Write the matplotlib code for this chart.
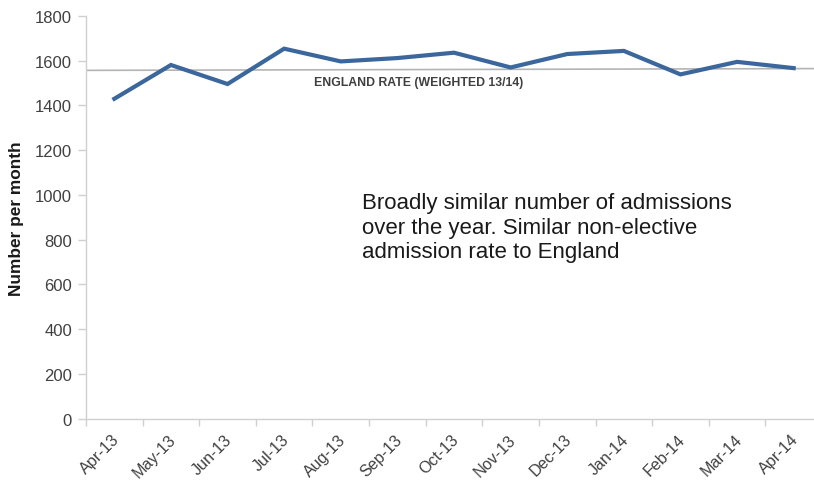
import matplotlib
matplotlib.use("Agg")
import matplotlib.pyplot as plt
import matplotlib.transforms as mtransforms
from matplotlib.ticker import FixedLocator

months = ["Apr-13", "May-13", "Jun-13", "Jul-13", "Aug-13", "Sep-13", "Oct-13",
          "Nov-13", "Dec-13", "Jan-14", "Feb-14", "Mar-14", "Apr-14"]
admissions = [1430, 1581, 1496, 1654, 1597, 1612, 1636, 1570, 1630, 1644, 1539, 1595, 1567]
england_rate = [1557, 1565]  # at left and right ends of the axis
england_label = "ENGLAND RATE (WEIGHTED 13/14)"
note = "Broadly similar number of admissions\nover the year. Similar non-elective\nadmission rate to England"
yticks = list(range(0, 1801, 200))

plt.rcParams['font.family'] = ['Liberation Sans', 'DejaVu Sans']

fig = plt.figure(figsize=(8.14, 4.81), dpi=100)
ax = fig.add_axes([86/814, 61.3/481, (822-86)/814, (419.7-17)/481])

x = list(range(len(months)))
ax.plot(x, admissions, color='#3b679c', lw=3.0, solid_joinstyle='miter', zorder=3)
ax.plot([-0.5, len(months) - 0.5], england_rate, color='#b4b4b4', lw=1.2, zorder=2)

ax.set_xlim(-0.5, len(months) - 0.5)
ax.set_ylim(0, 1800)
ax.set_yticks(yticks)
ax.set_xticks(x)
ax.set_xticklabels(months, rotation=45, ha='right', va='top', rotation_mode='anchor')
ax.xaxis.set_minor_locator(FixedLocator([i - 0.5 for i in range(len(months) + 1)]))
ax.tick_params(axis='x', which='major', length=0, pad=9, labelsize=11.6, labelcolor='#404040')
ax.tick_params(axis='x', which='minor', length=5, color='#d0d0d0', width=1)
ax.tick_params(axis='y', length=6, color='#d0d0d0', width=1, labelsize=12,
               labelcolor='#404040', pad=4)
shift = mtransforms.ScaledTranslation(-3/100, 0, fig.dpi_scale_trans)
for lbl in ax.get_xticklabels():
    lbl.set_transform(lbl.get_transform() + shift)

for s in ['top', 'right']:
    ax.spines[s].set_visible(False)
for s in ['left', 'bottom']:
    ax.spines[s].set_color('#d0d0d0')
    ax.spines[s].set_linewidth(1)

ax.set_ylabel("Number per month", fontweight='bold', fontsize=12.4, color='#1a1a1a', labelpad=8)

ax.text(3.52, 1505, england_label, fontsize=8.8, fontweight='bold', color='#404040',
        ha='left', va='center')
ax.text(4.38, 855, note, fontsize=16, color='#1a1a1a', ha='left', va='center',
        linespacing=1.22)

fig.savefig("out.png", dpi=100)
